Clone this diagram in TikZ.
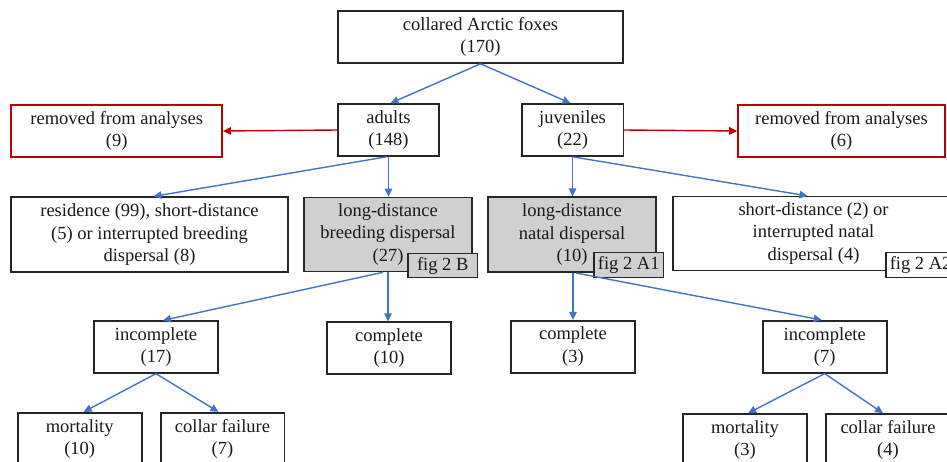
\documentclass[tikz,border=0pt]{standalone}
\usepackage{fontspec}
\setmainfont{Liberation Serif}
\usetikzlibrary{arrows.meta}
\definecolor{blueA}{RGB}{68,114,196}
\definecolor{redA}{RGB}{192,0,0}
\definecolor{greyF}{RGB}{208,208,208}
\definecolor{txt}{RGB}{25,25,25}
\tikzset{
  box/.style={draw=black!85, line width=1.6pt, rectangle, inner sep=0pt, align=center,
    text=txt, font=\fontsize{18.5}{22.3}\selectfont},
  redbox/.style={box, draw=redA},
  greybox/.style={box, fill=greyF},
  tagbox/.style={box, line width=1.4pt},
  barrow/.style={draw=blueA, line width=1.4pt, -{Triangle[length=8pt,width=7.5pt]}},
  rarrow/.style={draw=redA, line width=1.4pt, -{Triangle[length=8pt,width=7.5pt]}}
}
\begin{document}
\begin{tikzpicture}[x=1pt,y=-1pt]
\useasboundingbox (0,0) rectangle (947,462);
\clip (0,0) rectangle (947,462);
% top level
\node[box, minimum width=285pt, minimum height=52pt] (top) at (480.5,37) {collared Arctic foxes\\(170)};
\node[box, minimum width=101pt, minimum height=52pt] (adults) at (388.5,130) {adults\\(148)};
\node[box, minimum width=101.6pt, minimum height=52pt] (juv) at (572.5,130) {juveniles\\(22)};
\node[redbox, minimum width=211pt, minimum height=52pt] (rem9) at (116.7,131) {removed from analyses\\(9)};
\node[redbox, minimum width=207pt, minimum height=52pt] (rem6) at (841.5,131) {removed from analyses\\(6)};
% third level
\node[box, minimum width=277pt, minimum height=75pt] (res) at (149.5,234.7) {residence (99), short-distance\\(5) or interrupted breeding\\dispersal (8)};
\node[greybox, minimum width=168pt, minimum height=74pt] (breed) at (388,234.5) {long-distance\\breeding dispersal\\(27)};
\node[greybox, minimum width=168pt, minimum height=75pt] (natal) at (572,234.7) {long-distance\\natal dispersal\\(10)};
\node[box, minimum width=281pt, minimum height=73.6pt] (short) at (813.5,233.5) {short-distance (2) or\\interrupted natal\\dispersal (4)};
\node[tagbox, fill=greyF, minimum width=69.3pt, minimum height=24.4pt] (tagB) at (442.7,265.5) {fig 2 B};
\node[tagbox, fill=greyF, minimum width=69.3pt, minimum height=25.4pt] (tagA1) at (628.7,265) {fig 2 A1};
\node[tagbox, fill=white, minimum width=69.3pt, minimum height=25.4pt] (tagA2) at (920.6,265) {fig 2 A2};
% fourth level
\node[box, minimum width=123.7pt, minimum height=51.7pt] (inc17) at (156,347) {incomplete\\(17)};
\node[box, minimum width=124.3pt, minimum height=51.7pt] (comp10) at (389,348) {complete\\(10)};
\node[box, minimum width=123.7pt, minimum height=52pt] (comp3) at (573,346.7) {complete\\(3)};
\node[box, minimum width=124pt, minimum height=52pt] (inc7) at (824.7,346.8) {incomplete\\(7)};
% fifth level
\node[box, minimum width=124pt, minimum height=52pt] (mort10) at (79.7,438.7) {mortality\\(10)};
\node[box, minimum width=123.6pt, minimum height=52pt] (coll7) at (222.5,438.7) {collar failure\\(7)};
\node[box, minimum width=123.7pt, minimum height=52pt] (mort3) at (745,440) {mortality\\(3)};
\node[box, minimum width=124pt, minimum height=52pt] (coll4) at (888,440) {collar failure\\(4)};
% connectors
\draw[barrow] (top.south) -- ([xshift=2pt]adults.north);
\draw[barrow] (top.south) -- ([xshift=-2pt]juv.north);
\draw[rarrow] (adults.west) -- (rem9.east);
\draw[rarrow] (juv.east) -- (rem6.west);
\draw[barrow] ([xshift=-2pt]adults.south) -- ([xshift=4pt]res.north);
\draw[barrow] (adults.south) -- (adults.south |- breed.north);
\draw[barrow] (juv.south) -- (juv.south |- natal.north);
\draw[barrow] (juv.south) -- ([xshift=-6pt]short.north);
\draw[barrow] ([xshift=-5pt]breed.south) -- ([xshift=7pt]inc17.north);
\draw[barrow] (breed.south) -- (breed.south |- comp10.north);
\draw[barrow] ([xshift=1pt]natal.south) -- ([xshift=1pt]natal.south |- comp3.north);
\draw[barrow] ([xshift=4pt]natal.south) -- ([xshift=-3pt]inc7.north);
\draw[barrow] (inc17.south) -- ([xshift=4pt]mort10.north);
\draw[barrow] (inc17.south) -- ([xshift=-4pt]coll7.north);
\draw[barrow] (inc7.south) -- ([xshift=3pt]mort3.north);
\draw[barrow] (inc7.south) -- ([xshift=-5pt]coll4.north);
\end{tikzpicture}
\end{document}
